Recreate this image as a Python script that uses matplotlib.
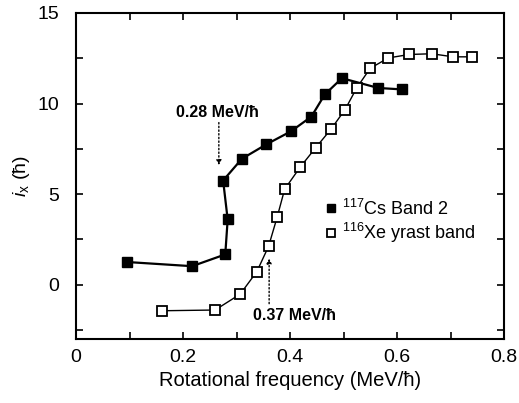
import matplotlib
matplotlib.use('Agg')
import numpy as np
import matplotlib.pyplot as plt

plt.rcParams['font.family'] = ['Liberation Sans', 'DejaVu Sans']
plt.rcParams['mathtext.fontset'] = 'custom'
plt.rcParams['mathtext.rm'] = 'Liberation Sans'
plt.rcParams['mathtext.it'] = 'Liberation Sans:italic'

# 117Cs band 2
cs_x = [0.096, 0.217, 0.279, 0.2835, 0.275, 0.31, 0.356, 0.402, 0.44, 0.465, 0.497, 0.565, 0.61]
cs_y = [1.25, 1.02, 1.67, 3.6, 5.75, 6.95, 7.75, 8.47, 9.28, 10.5, 11.4, 10.86, 10.78]

# 116Xe yrast band
xe_x = [0.161, 0.26, 0.307, 0.338, 0.36, 0.376, 0.39, 0.419, 0.448, 0.477, 0.503,
        0.525, 0.55, 0.584, 0.623, 0.665, 0.705, 0.741]
xe_y = [-1.44, -1.4, -0.52, 0.72, 2.12, 3.73, 5.27, 6.49, 7.56, 8.6, 9.67,
        10.88, 11.95, 12.52, 12.71, 12.75, 12.58, 12.58]

fig = plt.figure(figsize=(5.19, 4.03), dpi=100)
ax = fig.add_axes([76 / 519, 1 - 339 / 403, 428 / 519, 326 / 403])

ax.plot(cs_x, cs_y, color='black', lw=1.6, marker='s', ms=7.5,
        mfc='black', mec='black', label=r'$^{117}$Cs Band 2', zorder=3)
ax.plot(xe_x, xe_y, color='black', lw=1.0, marker='s', ms=7.5,
        mfc='white', mec='black', mew=1.3, label=r'$^{116}$Xe yrast band', zorder=3)

# band crossing annotations
ax.annotate('', xy=(0.267, 6.6), xytext=(0.267, 8.95),
            arrowprops=dict(arrowstyle='-|>', ls=':', lw=1.0, color='black',
                            mutation_scale=7, shrinkA=0, shrinkB=0))
ax.text(0.265, 9.5, '0.28 MeV/ħ', fontsize=11.5, fontweight='bold', ha='center', va='center')
ax.annotate('', xy=(0.361, 1.45), xytext=(0.361, -1.05),
            arrowprops=dict(arrowstyle='-|>', ls=':', lw=1.0, color='black',
                            mutation_scale=7, shrinkA=0, shrinkB=0))
ax.text(0.409, -1.72, '0.37 MeV/ħ', fontsize=11.5, fontweight='bold', ha='center', va='center')

ax.set_xlim(0, 0.8)
ax.set_ylim(-3, 15)
ax.set_xticks([0, 0.2, 0.4, 0.6, 0.8])
ax.set_xticklabels(['0', '0.2', '0.4', '0.6', '0.8'])
ax.set_yticks([0, 5, 10, 15])
ax.set_xticks(np.arange(0.1, 0.8, 0.2), minor=True)
ax.set_yticks([-2.5, 2.5, 7.5, 12.5], minor=True)
ax.tick_params(which='both', direction='in', top=True, right=True, labelsize=14, width=1.2)
ax.tick_params(which='major', length=5)
ax.tick_params(axis='x', which='major', pad=7)
ax.tick_params(axis='y', which='major', pad=12)
ax.tick_params(which='minor', length=5)
for s in ax.spines.values():
    s.set_linewidth(1.5)

ax.set_xlabel('Rotational frequency (MeV/ħ)', fontsize=14.5, labelpad=4)
ax.set_ylabel(r'$i_{\mathrm{x}}$ (ħ)', fontsize=14, labelpad=4)

leg = ax.legend(loc='upper left', bbox_to_anchor=(0.555, 0.47), frameon=False, fontsize=13,
                handlelength=0.5, handletextpad=0.4, labelspacing=0.15, borderpad=0.2,
                markerscale=0.8)
for h in leg.legend_handles:
    h.set_linestyle('none')

fig.savefig('out.png', dpi=100)
